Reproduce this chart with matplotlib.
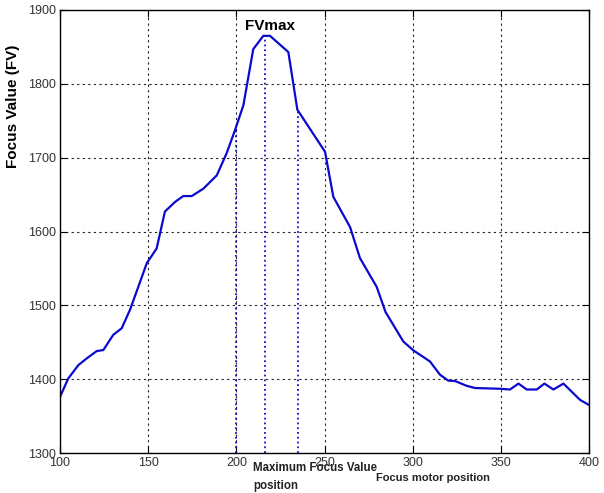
import numpy as np
import matplotlib
matplotlib.use("Agg")
import matplotlib.pyplot as plt

# focus curve
motor_pos = [100, 104.7, 110.4, 115.1, 120.8, 124.6, 130.2, 135, 139.7, 144.4, 149.2,
             154.8, 159.5, 165.2, 169.9, 174.7, 181.3, 188.9, 194.5, 199.2, 204,
             209.6, 215.3, 219.1, 229.5, 234.6, 250.3, 255, 264.5, 270.1, 279.6,
             284.6, 294.7, 300.4, 309.8, 315.5, 320.2, 324, 330.6, 335.4, 349.5,
             355.2, 360, 364.7, 370.4, 374.7, 379.8, 385.5, 394.9, 400]
focus_val = [1376, 1401, 1419, 1428, 1438, 1439.5, 1460, 1469, 1494, 1525, 1557,
             1577, 1627, 1640, 1648, 1648, 1658, 1676, 1706, 1737, 1771,
             1847, 1865, 1865, 1843, 1765, 1708, 1647, 1606, 1564, 1525,
             1491, 1451, 1439, 1424, 1406, 1398, 1397.5, 1391, 1388, 1387,
             1386, 1394, 1386, 1386, 1394, 1386, 1394, 1372, 1365]

# dotted markers: position and height of curve there
marker_pos = [200, 216.3, 235]
marker_top = [1740, 1865, 1765]

xticks = [100, 150, 200, 250, 300, 350, 400]
yticks = [1300, 1400, 1500, 1600, 1700, 1800, 1900]

plt.rcParams['font.family'] = ['Liberation Sans', 'DejaVu Sans']

fig = plt.figure(figsize=(6.04, 4.93), dpi=100)
ax = fig.add_axes([60/604, 40/493, 529/604, 443/493])

ax.plot(motor_pos, focus_val, color='#0a0ad0', linewidth=1.6)
for xp, yt in zip(marker_pos, marker_top):
    ax.plot([xp, xp], [1300, yt], color='#1010cc', linestyle=':', linewidth=1.3)

ax.set_xlim(100, 400)
ax.set_ylim(1300, 1900)
ax.set_xticks(xticks)
ax.set_yticks(yticks)
ax.grid(True, color='#222222', linestyle=(0, (2, 3)), linewidth=0.8)
ax.tick_params(direction='in', length=5, top=True, right=True, labelsize=9,
               labelcolor='#333333', pad=3)
for sp in ax.spines.values():
    sp.set_linewidth(1.0)

ax.set_ylabel('Focus Value (FV)', fontsize=11, fontweight='bold')
ax.yaxis.set_label_coords(-0.076, 0.783)

ax.text(205, 1878, 'FVmax', fontsize=11, fontweight='bold', va='center', ha='left')

fig.text(253/604, 1 - 468/493, 'Maximum Focus Value', fontsize=8.3, fontweight='bold',
         va='center', ha='left', color='#222222')
fig.text(253/604, 1 - 486/493, 'position', fontsize=8.3, fontweight='bold',
         va='center', ha='left', color='#222222')
fig.text(376/604, 1 - 478/493, 'Focus motor position', fontsize=8, fontweight='bold',
         va='center', ha='left', color='#222222')

fig.savefig('out.png', dpi=100)
